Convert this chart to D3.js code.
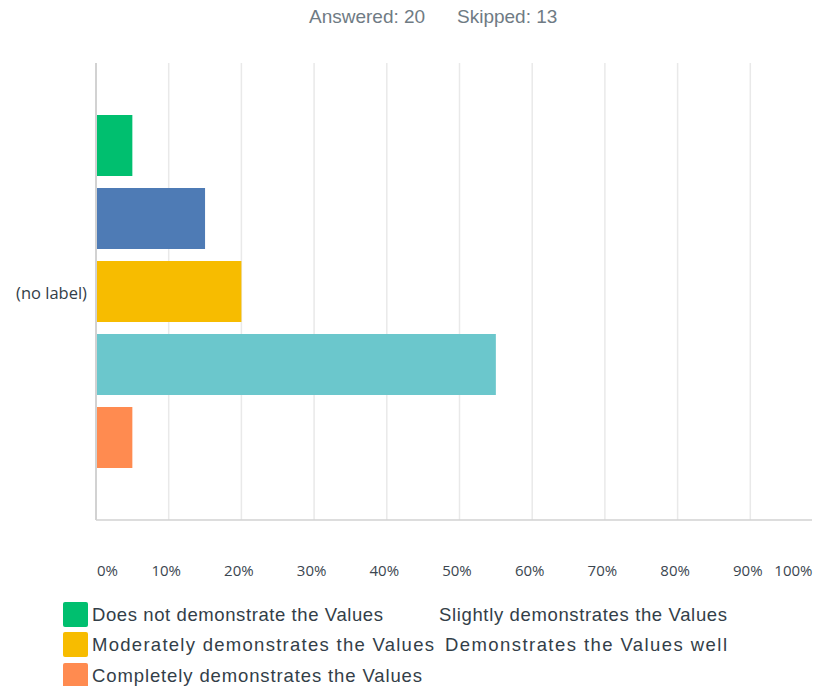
<!DOCTYPE html>
<html>
<head>
<meta charset="utf-8">
<script src="https://cdn.jsdelivr.net/npm/d3@7"></script>
<style>
  html, body { margin: 0; padding: 0; background: #fff; }
  svg { display: block; }
</style>
</head>
<body>
<svg id="chart" width="813" height="686"></svg>
<script>
const categories = ["(no label)"];
const seriesNames = [
  "Does not demonstrate the Values",
  "Slightly demonstrates the Values",
  "Moderately demonstrates the Values",
  "Demonstrates the Values well",
  "Completely demonstrates the Values"
];
const seriesValues = [0.05, 0.15, 0.20, 0.55, 0.05];
const seriesColors = ["#00bf6f", "#4e7bb5", "#f7bc00", "#6bc7cc", "#ff8b50"];
const tickValues = [0, 0.1, 0.2, 0.3, 0.4, 0.5, 0.6, 0.7, 0.8, 0.9, 1.0];
const tickLabels = ["0%", "10%", "20%", "30%", "40%", "50%", "60%", "70%", "80%", "90%", "100%"];
const answered = 20, skipped = 13;

const svg = d3.select("#chart");
const W = 813;

const x = d3.scaleLinear().domain([0, 1]).range([96, 823]);
const p = 12 / 73;
const y = d3.scaleBand().domain(seriesNames).range([109, 474]).paddingInner(p).paddingOuter(p / 2);
const yCat = d3.scaleBand().domain(categories).range([109, 474]);

// title
const title = svg.append("text")
  .attr("y", 23).attr("font-family", "Liberation Sans, Arial, sans-serif")
  .attr("font-size", 19).attr("fill", "#6f7b84");
title.append("tspan").attr("x", 309).text("Answered: " + answered);
title.append("tspan").attr("x", 457).text("Skipped: " + skipped);

// gridlines
svg.append("g").selectAll("line")
  .data(tickValues.filter(v => v > 0 && x(v) < W))
  .join("line")
  .attr("x1", d => x(d)).attr("x2", d => x(d))
  .attr("y1", 63).attr("y2", 520)
  .attr("stroke", "#e9e9e9").attr("stroke-width", 1.5);

// bars
svg.append("g").selectAll("rect")
  .data(seriesNames.map((n, i) => ({ n, v: seriesValues[i], c: seriesColors[i] })))
  .join("rect")
  .attr("x", x(0) + 0.5)
  .attr("y", d => y(d.n))
  .attr("width", d => x(d.v) - x(0) - 0.5)
  .attr("height", y.bandwidth())
  .attr("fill", d => d.c);

// axis lines
svg.append("line").attr("x1", x(0)).attr("x2", x(0)).attr("y1", 63).attr("y2", 520)
  .attr("stroke", "#d2d2d2").attr("stroke-width", 2);
svg.append("line").attr("x1", x(0)).attr("x2", 812).attr("y1", 520).attr("y2", 520)
  .attr("stroke", "#d2d2d2").attr("stroke-width", 1.5);

// x tick labels
const xAxis = d3.axisBottom(x).tickValues(tickValues).tickSize(0)
  .tickFormat((d, i) => tickLabels[i]);
const gx = svg.append("g").attr("transform", "translate(0,565)").call(xAxis);
gx.select(".domain").remove();
gx.selectAll("text")
  .attr("font-family", "Open Sans, sans-serif").attr("font-size", 15)
  .attr("fill", "#3b4650").attr("dy", "0.71em").attr("y", 0)
  .attr("text-anchor", (d, i) => i === 0 ? "start" : (i === tickValues.length - 1 ? "end" : "middle"))
  .attr("x", (d, i) => i === 0 ? 0.5 : (i === tickValues.length - 1 ? 812 - x(d) : -3));

// category label
svg.append("g").selectAll("text").data(categories).join("text")
  .attr("x", 87).attr("y", d => yCat(d) + yCat.bandwidth() / 2 + 2)
  .attr("dy", "0.35em").attr("text-anchor", "end")
  .attr("font-family", "Open Sans, sans-serif").attr("font-size", 16.5)
  .attr("fill", "#333e48").text(d => d);

// legend
const legendItems = [
  { i: 0, x: 92, y: 621, len: 291, swatch: true },
  { i: 1, x: 439, y: 621, len: 288, swatch: false },
  { i: 2, x: 92, y: 651, len: 342, swatch: true },
  { i: 3, x: 445, y: 651, len: 282, swatch: false },
  { i: 4, x: 92, y: 682, len: 330, swatch: true }
];
const lg = svg.append("g");
lg.selectAll("rect").data(legendItems.filter(d => d.swatch)).join("rect")
  .attr("x", 63).attr("y", d => d.y - 19).attr("width", 25).attr("height", 25)
  .attr("rx", 2).attr("fill", d => seriesColors[d.i]);
lg.selectAll("text").data(legendItems).join("text")
  .attr("x", d => d.x).attr("y", d => d.y)
  .attr("font-family", "Liberation Sans, Arial, sans-serif").attr("font-size", 18.5)
  .attr("fill", "#333e48")
  .attr("textLength", d => d.len).attr("lengthAdjust", "spacing")
  .text(d => seriesNames[d.i]);
</script>
</body>
</html>
